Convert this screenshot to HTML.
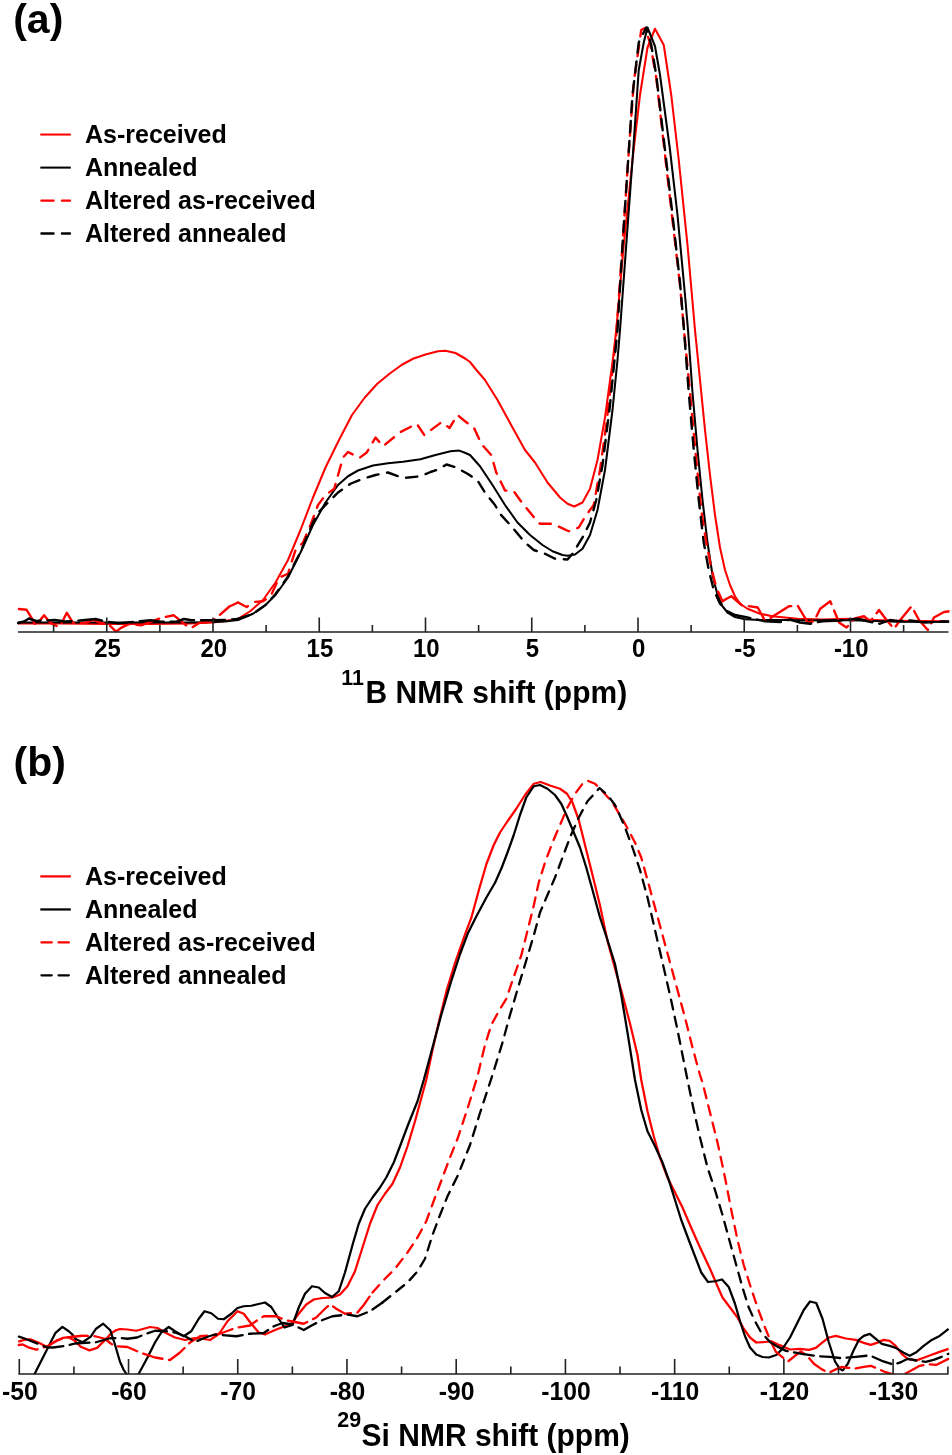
<!DOCTYPE html>
<html lang="en">
<head>
<meta charset="utf-8">
<title>NMR spectra</title>
<style>
html,body{margin:0;padding:0;background:#fff;}
body{width:952px;height:1455px;overflow:hidden;}
svg{display:block;}
text{font-family:"Liberation Sans", Arial, Helvetica, sans-serif;font-weight:bold;fill:#000;}
.c{fill:none;stroke-width:2.05;stroke-linejoin:round;stroke-linecap:butt;}
.d{stroke-linecap:round;stroke-width:2.4;}
.b{stroke-width:2.25;}
.d.b{stroke-width:2.3;}
.r{stroke:#ff0000;}
.k{stroke:#000;}
.ax{stroke:#222;stroke-width:1.6;fill:none;}
.tl{font-size:25.1px;text-anchor:middle;}
.lg{font-size:25px;}
.pl{font-size:41px;}
.xl{font-size:30.8px;}
.sup{font-size:21.4px;}
</style>
</head>
<body>
<svg width="952" height="1455" viewBox="0 0 952 1455">
<rect width="952" height="1455" fill="#fff"/>
<defs>
<clipPath id="ca"><rect x="17" y="0" width="932.5" height="632.4"/></clipPath>
<clipPath id="cb"><rect x="17" y="742" width="932.5" height="632.2"/></clipPath>
</defs>

<!-- panel a -->
<text class="pl" x="13.2" y="33.3">(a)</text>
<line class="c r" x1="40.3" y1="134.55" x2="70.8" y2="134.55"/>
<text class="lg" x="85" y="143.35">As-received</text>
<line class="c k" x1="40.3" y1="167.6" x2="70.8" y2="167.6"/>
<text class="lg" x="85" y="176.4">Annealed</text>
<line class="c r d" x1="41.45" y1="200.6" x2="69.95" y2="200.6" stroke-dasharray="12.1 8.4"/>
<text class="lg" x="85" y="209.4">Altered as-received</text>
<line class="c k d" x1="41.45" y1="233.5" x2="69.95" y2="233.5" stroke-dasharray="12.1 8.4"/>
<text class="lg" x="85" y="242.3">Altered annealed</text>
<g clip-path="url(#ca)">
<polyline class="c r" points="18,623.5 60,623.5 106,624 150,624 190,623.5 213,622.5 225,621 238,618.75 250.5,611 263,600 275.5,582.5 288,560 300.5,530 313,497.5 325.5,467.5 339,440 352,415 364.8,397.5 377.3,383.75 389.5,373.75 401.5,365 413,358.75 425.5,354.5 438,351.25 445.5,350.75 455.5,353 465.5,358.75 470,362 476,369.5 485,380 497.5,400 512.5,427.5 525,450 535,462.5 547.5,482.5 560,497.5 567.5,503.75 574.25,506.5 582.5,502.5 590,488.75 597.5,460 605,417.5 612.5,362.5 616.25,330 623.75,245 632.5,160 640,95 647.5,47.5 655,28.75 663.75,45 671.25,95 678.75,160 687.5,245 695,330 700,380 705,430 710,475 715,515 720,547.5 725,570 730,585 735,596.25 740,603.75 747.5,608.75 760,613.75 772.5,616.25 797.5,618.75 822.5,619.5 847.5,618.75 872.5,620 898,620.75 948.5,621.25"/>
<polyline class="c k" points="18,622.5 100,622.5 190,622.5 213,622 225,621.5 238,620 253,613.75 265.5,605 275.5,595 288,577.5 300.5,552.5 313,525 325.5,502.5 338,485 348,476.25 358,470.5 373,465.5 388,463.25 403,461.75 420.5,459.25 435.5,455 450.5,451.25 459.25,450.6 465.5,453 470,455 480,466.25 492.5,485 505,505 517.5,522.5 530,535 542.5,545 552.5,551.25 562.5,555 567.5,555.75 575,554.5 582.5,548.75 590,535 597.5,510 605,470 612.5,410 617.5,360 620,330 626.25,245 632.5,160 638.75,70 643.75,42.5 647.5,27.5 655,46.25 660,75 670,150 677.5,215 685,295 688,330 692.5,392.5 697.5,450 702.5,500 707.5,542.5 712.5,575 717.5,595 722.5,606.25 727.5,612.5 735,617 745,619.25 760,620 785,620 810,620.5 835,620 860,620.5 898,621.75 948.5,622"/>
<polyline class="c r d" stroke-dasharray="24 7" points="18.9,609 26.5,609.7 31.5,617.8 35.3,624.9 39.1,621.5 44.1,615.3 50.4,622.9 58,626.6 61.8,622.8 66.8,612.8 73.1,622.9 85.7,622.9 93.3,619.8 100.8,622.9 108.4,624.1 116,631.7 121,627.9 128.6,624.1 141.2,625.4 151.3,621.6 161.3,617.8 173.9,615.3 181.5,621.6 187.8,626.6 192.8,627.1 199.2,622.9 211.8,621.6 219.3,615.3 229.4,606.5 238,602.5"/>
<polyline class="c r d" stroke-dasharray="11.3 8.7" points="238,602.5 246.75,607 253,602 263,601.25 270.5,596.25 279.25,577.5 288,573.75 295.5,550 303,542.5 310.5,525 318,505 325.5,495 334.25,488.75 343,457.5 348,452 359.25,458 366.75,452.5 375.5,437.5 383,446.25 400.5,432 416.75,423.75 424.25,435 441.75,422 449.5,428 457.5,415 465,421.25 473.75,427.5 481.25,443.75 491.25,455 496.25,472.5 505,490.5 513.75,491.25 520,500 533.75,517 540,523.75 552.5,523.75 568.75,531.25 578.75,527.5 586.25,515 593.75,505 600,470 606.25,425 612.5,370 616.25,335 622.5,245 627.5,170 633.75,82.5 641.25,30 645,28 650,42.5 656.25,77.5 665,155 672.5,220 680,285 684,330 690,392.5 696.25,460 701.25,510 706.25,542.5 711.25,567.5 716.25,587.5 722.5,601.25"/>
<polyline class="c r d" stroke-dasharray="24 7" points="722.5,601.25 726.5,598.75 731.5,596.25 741.5,605 757.75,607.5 765.25,621.25 779,612.5 789,606.25 797.75,605.75 807.75,622.5 814,621.25 820.25,608.75 830.25,601.25 839,622.5 846.5,627.5 854,618.75 864,616.25 870.25,621.25 879,610 886.5,620 894,628.75 900.25,620 911.5,606.25 919,620 927.75,630 934,617.5 944,612 950.25,611.25"/>
<polyline class="c k d" stroke-dasharray="24 7" points="18,623 24,621.5 29,618.5 36,621 45,620.5 55,620 65,621.5 75,621 85,620 95.8,619 105.9,621.6 118.5,623.4 136,621.6 151,620.3 161,621.6 176.5,621.6 184,619 191.6,620.3 211.7,620.3 227,619.8 238,619"/>
<polyline class="c k d" stroke-dasharray="11.3 8.7" points="238,619 253,613.75 265.5,605 275.5,594 288,576.5 300.5,552 313,522.5 318,513 325.5,505 338,492.5 350.5,483.75 363,478.75 375.5,475 388,472.5 403,478 420.5,476.25 430.5,472 438,469.5 446.5,464.5 455,467 467.5,473.75 477.5,480.5 485,492.5 495,505 500,513.75 512.5,527.5 525,542.5 533.75,550 545,553.75 555,558.75 567.5,559.5 572.5,553.75 582.5,537.5 590,522.5 596.25,500 602.5,465 610,405 615,355 617.5,330 622.5,245 627.5,170 632.5,95 638.75,42.5 646.25,27.5 651.25,45 656.25,75 665,150 672.5,215 680,282.5 684,330 688.75,392.5 693.75,450 698.75,500 703.75,542.5 708.75,570 713.75,590 720,603.75 727.5,611.25"/>
<polyline class="c k d" stroke-dasharray="24 7" points="727.5,611.25 735,615 747.5,617.5 765,621.25 780,622 790,619.5 800,622.5 810,623.75 822.5,621.25 840,620.5 857.5,618.75 867.5,621.25 880,623.75 890,620 898,621.25 910,620.5 925,622.5 940,621.5 948.5,621.5"/>
</g>
<path class="ax" d="M18,632.0H948.5 M53.62,632.0v-7 M106.75,632.0v-14.6 M159.88,632.0v-7 M213.00,632.0v-14.6 M266.12,632.0v-7 M319.25,632.0v-14.6 M372.38,632.0v-7 M425.50,632.0v-14.6 M478.62,632.0v-7 M531.75,632.0v-14.6 M584.88,632.0v-7 M638.00,632.0v-14.6 M691.12,632.0v-7 M744.25,632.0v-14.6 M797.38,632.0v-7 M850.50,632.0v-14.6 M903.62,632.0v-7"/>
<text class="tl" transform="translate(107.5,656.9) scale(0.955,1)">25</text>
<text class="tl" transform="translate(213.7,656.9) scale(0.955,1)">20</text>
<text class="tl" transform="translate(319.9,656.9) scale(0.955,1)">15</text>
<text class="tl" transform="translate(426.2,656.9) scale(0.955,1)">10</text>
<text class="tl" transform="translate(532.5,656.9) scale(0.955,1)">5</text>
<text class="tl" transform="translate(638.7,656.9) scale(0.955,1)">0</text>
<text class="tl" transform="translate(745.0,656.9) scale(0.955,1)">-5</text>
<text class="tl" transform="translate(851.2,656.9) scale(0.955,1)">-10</text>
<text class="sup" x="341.2" y="684.9">11</text>
<text class="xl" transform="translate(365.6,703.2) scale(0.974,1)">B NMR shift (ppm)</text>
<!-- panel b -->
<text class="pl" x="13.5" y="775.8">(b)</text>
<line class="c r b" x1="40.3" y1="876.4" x2="70.8" y2="876.4"/>
<text class="lg" x="85" y="885.2">As-received</text>
<line class="c k b" x1="40.3" y1="909.45" x2="70.8" y2="909.45"/>
<text class="lg" x="85" y="918.25">Annealed</text>
<line class="c r d b" x1="41.45" y1="942.45" x2="69.95" y2="942.45" stroke-dasharray="10.3 6.8"/>
<text class="lg" x="85" y="951.25">Altered as-received</text>
<line class="c k d b" x1="41.45" y1="975.35" x2="69.95" y2="975.35" stroke-dasharray="10.3 6.8"/>
<text class="lg" x="85" y="984.15">Altered annealed</text>
<g clip-path="url(#cb)">
<polyline class="c r b" points="18.3,1341.6 25.2,1339.7 30.3,1339.3 37.8,1342.2 46.7,1346.7 54.2,1342.2 63,1337.8 68.7,1337.2 74.4,1340.4 80.7,1346.7 89.5,1350.4 97.1,1347.9 104.7,1340.4 111,1333.4 116,1330.3 120,1329 127.5,1329.5 136.25,1330.75 143.75,1328.75 150,1327 157.5,1328 165,1332.5 175,1337.5 185,1340 195,1338 202.5,1338.75 210,1340 217.5,1335 220,1332.5 227.5,1321.25 237.5,1311.25 243.75,1313.75 251.25,1323.75 258.75,1332.5 265,1334.5 275,1330 291.25,1323.75 298.75,1313.75 306.25,1304.5 313.75,1299.5 322.5,1298 332.5,1297.5 340,1294.5 347.5,1286.25 355,1271.25 362.5,1247.5 370,1223.75 377.5,1205 385,1193.75 392.5,1183.75 400,1167.5 407.5,1146.25 415,1121.25 422.5,1093.75 426.25,1080 432.5,1050 438.75,1022.5 446.717,990 455.15,962.5 463.9,937.5 471.4,917.5 478.9,890 486.512,863.75 493.75,845 500,832.5 507.5,821.25 516.25,808.75 525,795 533.75,783.75 540.75,782 550,785.5 560,788.75 567,793.75 572.5,802.5 578.75,820 586.25,850 593.75,880 600,905.5 607.5,941 615,968.5 622.5,995 630,1023.5 637.5,1055 641.25,1080 647.5,1111.25 653.75,1136.25 660,1157.5 667.5,1177.5 675,1192.5 682.5,1207.5 690,1225 700,1247.5 710,1268.75 717.5,1286.25 722.5,1297.5 730,1307.5 737.5,1317.5 743.75,1328.75 750,1337.5 756.25,1342.5 765,1342 771.25,1341.25 779,1344.9 790,1349.5 800,1348.9 808.9,1349.9 815.9,1347.9 821.9,1342.9 828.9,1337.5 835.8,1335.9 845.8,1338.5 855.8,1339.9 863.8,1342.9 870.8,1344.9 876.8,1342.9 883.7,1339.9 889.7,1340.9 895.7,1345.9 901.7,1353.8 907.7,1358.8 916.7,1360.4 923.7,1357.8 931.7,1354.8 939.6,1351.9 948.6,1348.9"/>
<polyline class="c k b" points="25,1393 34.7,1373.8 46.25,1351 55.5,1332.8 62.4,1326.9 68.75,1331.25 71.9,1334 75.7,1339 82.6,1342.2 90.8,1336.6 95.8,1329 103.2,1323.7 110.3,1330.3 114.8,1344 120,1361.8 123.75,1370 126.25,1373.75 132,1386 138.75,1373.75 147.5,1357.5 155,1342.5 161.25,1332.5 168.75,1327 175,1331.25 183.75,1336.25 191.25,1331.25 198.75,1318.75 204.5,1311.25 211.25,1313.25 218,1318.75 223.75,1319.25 231.25,1313.75 237.5,1308 243.75,1306.25 251.25,1305.75 257.5,1304.25 265,1302.5 271.25,1307 278.75,1318.75 284.5,1327.5 292.5,1325 298.75,1307.5 305,1293.75 312,1286.25 318.75,1287.5 325,1293 332,1297 338.75,1291.25 345,1272.5 352.5,1245 358.75,1223.75 365,1208.75 372.5,1197.5 380,1187.5 386.25,1177.5 393.75,1162.5 400,1146.25 407.5,1126.25 417.5,1101.25 423.75,1080 432.5,1047.5 441.25,1015 450.817,982.5 460.15,953.75 467.65,933.75 476.4,916.25 486.4,897.5 495.15,882.5 501.775,867.5 507.5,852.5 513.75,835 520,815 526.25,797.5 533.75,786.25 540,785 547.5,788.75 555,795 561.25,803.75 567.5,817.5 573.75,832.5 580,847.5 586.25,867.5 592.5,890 600,917.5 607.5,940 615,964 621.25,995 627.5,1032.5 635,1080 641.25,1110 647.5,1131.25 655,1146.25 662.5,1162.5 668.75,1180 675,1200 681.25,1220 688.75,1240 695,1256.25 701.25,1272.5 708,1282 715,1281.25 722,1279.5 728.75,1287 735,1303.75 740,1321.25 745,1336.25 750,1347.5 756.25,1354.5 762.5,1357 768.75,1357.5 776.25,1355 782.5,1348.75 790,1337.5 797.5,1322.5 803.75,1310 810,1301.5 816.25,1303 822.5,1318.75 828.75,1342 835,1361.5 839.8,1368.8 842.8,1370.4 847.8,1363.8 853.8,1349.9 858.8,1339.9 863.8,1335.9 869.8,1333.9 875.8,1338.9 881.8,1343.9 889.7,1345.9 895.7,1347.9 903.7,1352.8 909.7,1355.8 916.7,1351.9 923.7,1345.9 931.7,1339.9 939.6,1335.9 948.6,1328.9"/>
<polyline class="c r d b" stroke-dasharray="20 6.5" points="18.75,1345 22.7,1344.4 28.4,1347.3 36.25,1349.7 47.5,1346.25 57.5,1340 70,1337 82.5,1335.75 95,1336.25 105,1338.75 110,1343 115,1346.25 127.5,1347 140,1352.5 155,1357.5 170,1360 180,1352.5 190,1342.5 200,1336.25 212.5,1335 220,1333.75 230,1330 237.5,1327.5 250,1325.5 257.5,1320 263.75,1316.25 276.25,1316.25 285,1320 295,1322 303.75,1323.75 316.25,1317.5 325,1308.75 330,1304.25 336.25,1308.75 345,1313.75 357.5,1312.5 363.75,1305 372.5,1292.5"/>
<polyline class="c r d b" stroke-dasharray="10 7.6" points="372.5,1292.5 385,1278.75 395,1268.75 407.5,1252.5 417.5,1237.5 426.25,1221.25 435,1197.5 442.5,1177.5 450,1157.5 458,1137.5 468,1107 477.5,1076.25 485,1045 491.25,1025 498.75,1011.25 506.308,998.75 513.55,977.5 521.4,955 527.65,930 533.9,905 538.75,882.5 545,862.5 552.5,842.5 560,825 567.5,807.5 575,793.75 582.5,783.75 587,780.5 595,783.75 602.5,791.25 612.5,802.5 625,823.75 635,842.5 641.25,857.5 647.5,880 655,907.5 662.5,935 670,962.5 677.5,990 685,1017.5 692.5,1047.5 700,1075 702.5,1082.5 710,1112.5 717.5,1142.5 725,1177.5 731.25,1210 737.5,1240 743.75,1265 750,1285 757.5,1307.5 765,1327.5 771.25,1342.5"/>
<polyline class="c r d b" stroke-dasharray="20 6.5" points="771.25,1342.5 776,1351.9 782,1356.8 788,1361.4 795,1355.8 801,1351.4 808,1356.8 813.9,1363.8 821.9,1369.4 828.9,1372.8 835.8,1369.4 841.8,1366.8 847.8,1367.8 855.8,1368.4 863.8,1366.8 870.8,1365.8 877.8,1368.8 885.7,1372.2 889.7,1373.4 897,1377 905.7,1373.4 910.7,1370.8 919.7,1365.8 927.7,1364.2 936.6,1364.8 942.6,1361.8 948.6,1358.8"/>
<polyline class="c k d b" stroke-dasharray="20 6.5" points="18.9,1336.6 24.6,1338.5 46.7,1347.3 53,1347.5 65,1346 75,1343.5 82,1343 95,1342.5 110,1338.25 120,1338 127.5,1338.75 137,1337.5 147,1333.5 155,1330.75 165,1331 175,1332.5 185,1336.25 195,1342 202.5,1338.75 209,1336.25 215,1334.5 220,1335 236.25,1336.25 250,1333.75 263.75,1333 273.75,1326.25 282.5,1323 292.5,1324.5 303.75,1330 312.5,1325 322.5,1320 332.5,1316.25 347.5,1314.5 357.5,1316.25 370,1311.25 382.5,1302.5"/>
<polyline class="c k d b" stroke-dasharray="10 7.6" points="382.5,1302.5 395,1292.5 407.5,1282.5 417.5,1271.25 425,1258.75 432.5,1235 440,1215 447.5,1196.25 458,1175 470,1145 480,1113 492.5,1075 502.5,1042.5 510,1015 518.083,987.5 526.4,960 533.9,935 540,912.5 547.5,895 555,877.5 562.5,857.5 570,837.5 578.75,817.5 587.5,801.25 599.5,788 607.5,795 615,805 617.5,810 625,827.5 632.5,847.5 640,870 647.5,897.5 655,930 662.5,962.5 670,995 677.5,1030 685,1067.5 687.5,1080 693.75,1110 700,1137.5 707.5,1167.5 715,1190 722.5,1215 730,1242.5 736.25,1265 742.5,1287.5 748.75,1307.5 755,1321.25 761.25,1332.5 770,1341.9"/>
<polyline class="c k d b" stroke-dasharray="20 6.5" points="770,1341.9 778,1346.9 786,1350.9 801.9,1353.8 817.9,1356.2 829.9,1356.8 841.8,1358.2 855.8,1356.8 869.8,1355.4 881.8,1360.8 889.7,1363.4 893.7,1364.8 901.7,1361.8 907.7,1358.8 917.7,1360.8 925.7,1361.8 933.6,1359.8 941.6,1356.8 948.6,1353.8"/>
</g>
<path class="ax" d="M18.3,1374.0H948.5 M19.30,1374.0v-15 M73.91,1374.0v-7.5 M128.53,1374.0v-15 M183.14,1374.0v-7.5 M237.75,1374.0v-15 M292.36,1374.0v-7.5 M346.97,1374.0v-15 M401.59,1374.0v-7.5 M456.20,1374.0v-15 M510.81,1374.0v-7.5 M565.42,1374.0v-15 M620.04,1374.0v-7.5 M674.65,1374.0v-15 M729.26,1374.0v-7.5 M783.87,1374.0v-15 M838.49,1374.0v-7.5 M893.10,1374.0v-15 M947.90,1374.0v-7.5"/>
<text class="tl" transform="translate(19.8,1399.8) scale(0.985,1)">-50</text>
<text class="tl" transform="translate(129.0,1399.8) scale(0.985,1)">-60</text>
<text class="tl" transform="translate(238.2,1399.8) scale(0.985,1)">-70</text>
<text class="tl" transform="translate(347.5,1399.8) scale(0.985,1)">-80</text>
<text class="tl" transform="translate(456.7,1399.8) scale(0.985,1)">-90</text>
<text class="tl" transform="translate(565.9,1399.8) scale(0.985,1)">-100</text>
<text class="tl" transform="translate(675.1,1399.8) scale(0.985,1)">-110</text>
<text class="tl" transform="translate(784.4,1399.8) scale(0.985,1)">-120</text>
<text class="tl" transform="translate(893.6,1399.8) scale(0.985,1)">-130</text>
<text class="sup" x="337.3" y="1427.2">29</text>
<text class="xl" transform="translate(361.6,1445.6) scale(0.974,1)">Si NMR shift (ppm)</text>
</svg>
</body>
</html>
